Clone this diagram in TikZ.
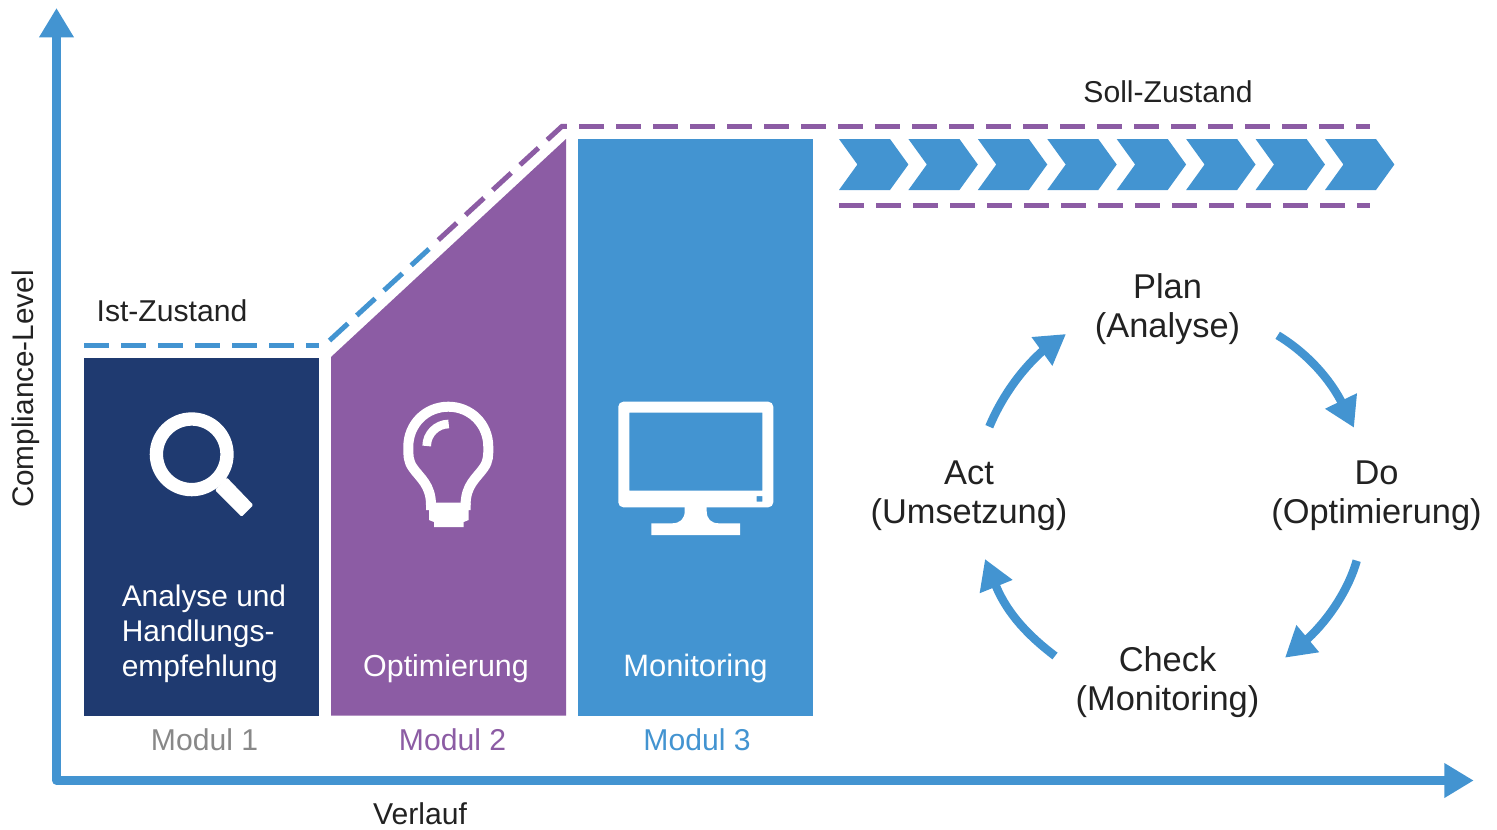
\documentclass[tikz,border=0pt]{standalone}
\usepackage{fontspec}
\setmainfont{Liberation Sans}
\usetikzlibrary{arrows.meta}
\definecolor{navy}{HTML}{1F3A70}
\definecolor{violet}{HTML}{8C5CA4}
\definecolor{sky}{HTML}{4394D1}
\definecolor{inktext}{HTML}{222222}
\definecolor{greytext}{HTML}{888888}
\tikzset{
  px/.style={x=0.75pt,y=-0.75pt},
  axisline/.style={draw=sky,line width=6.3pt,line join=round,{Triangle[length=22pt,width=24.6pt]}-{Triangle[length=22pt,width=24.6pt]}},
  cyclearrow/.style={draw=sky,line width=6.3pt,-{Triangle[length=22.3pt,width=25pt]}},
  dashline/.style={line width=3.75pt,dash pattern=on 18.75pt off 9pt},
  big/.style={inner sep=0pt,text=inktext,font=\fontsize{25.8}{29.25}\selectfont,align=center},
  mid/.style={inner sep=0pt,text=inktext,font=\fontsize{22.6}{26}\selectfont},
  inbox/.style={inner sep=0pt,text=white,font=\fontsize{22.8}{26.25}\selectfont},
  modul/.style={inner sep=0pt,anchor=base,font=\fontsize{22.6}{26.25}\selectfont},
  chevron/.style={fill=sky},
  iconstroke/.style={draw=white},
}
\begin{document}
\begin{tikzpicture}[px]
\fill[white] (0,0) rectangle (1497,829);
\useasboundingbox (0,0) rectangle (1497,829);
% axes
\coordinate (axtop) at (56.5,8);
\coordinate (axorigin) at (56.5,780.5);
\coordinate (axright) at (1473.7,780.5);
\draw[axisline] (axtop) -- (axorigin) -- (axright);
% blocks
\fill[navy] (84,358) rectangle (319,716);
\fill[violet] (331,357) -- (566,139) -- (566,715.5) -- (331,715.5) -- cycle;
\fill[sky] (578,139) rectangle (813,716);
% dashed levels
\draw[dashline,draw=sky] (84,345.5) -- (319,345.5);
\draw[dashline,draw=sky] (329.5,340.5) -- (429,249);
\draw[dashline,draw=violet] (438.3,240) -- (562,126.3) -- (567,126.3);
\draw[dashline,draw=violet] (579,126.3) -- (1370,126.3);
\draw[dashline,draw=violet] (839,205.7) -- (1370,205.7);
% chevrons
\foreach \i in {0,...,7}{
  \fill[chevron,shift={({839+69.43*\i},0)}] (0,139) -- (51,139) -- (69.4,164.5) -- (51,190) -- (0,190) -- (18.4,164.5) -- cycle;
}
% magnifier
\draw[iconstroke,line width=10pt] (191.7,454.3) circle[radius=35.3];
\fill[white,rounded corners=1pt] (215,490) -- (226.7,477.3) -- (253.3,505) -- (241.7,516.7) -- cycle;
% bulb
\draw[iconstroke,line width=7.5pt] (431,505) .. controls (431,485) and (420,478) .. (413,468)
  .. controls (408,461) and (408.3,455) .. (408.3,447)
  .. controls (408.3,424) and (426,406.7) .. (448.3,406.7)
  .. controls (470.6,406.7) and (488.3,424) .. (488.3,447)
  .. controls (488.3,455) and (488.6,461) .. (483.6,468)
  .. controls (476.6,478) and (465.6,485) .. (465.6,505);
\fill[white] (426,502.7) -- (470.7,502.7) -- (470.7,510) -- (468.7,510) -- (468.7,520) -- (463.7,522) -- (463.7,527) -- (434,527) -- (434,522) -- (429,520) -- (429,510) -- (426,510) -- cycle;
\draw[iconstroke,line width=6.5pt] (426.7,446) .. controls (426.7,434) and (436.7,424) .. (448.7,424);
% monitor
\fill[white,even odd rule]
  [rounded corners=3.75pt] (618.3,401.7) rectangle (773.3,507.3)
  [sharp corners] (629.3,412.7) rectangle (762.3,490.7)
  (756.7,496) rectangle (762.3,501.7);
\fill[white] (684.7,507) -- (706.7,507) -- (706.7,511) .. controls (706.7,519) and (711,523.3) .. (719,523.3) -- (740,523.3) -- (740,535) -- (651.3,535) -- (651.3,523.3) -- (672,523.3) .. controls (680,523.3) and (684.7,519) .. (684.7,511) -- cycle;
% block texts
\node[inbox,anchor=west,align=left,font=\fontsize{22.4}{26.25}\selectfont] (tanalyse) at (121.5,633.5) {Analyse und\\Handlungs-\\empfehlung};
\node[inbox,anchor=base] (toptim) at (446,676) {Optimierung};
\node[inbox,anchor=base,font=\fontsize{23.2}{26.25}\selectfont] (tmonit) at (695.5,676) {Monitoring};
\node[modul,text=greytext] (m1) at (204.5,750) {Modul 1};
\node[modul,text=violet] (m2) at (452.5,750) {Modul 2};
\node[modul,text=sky] (m3) at (697,750) {Modul 3};
% axis and level labels
\node[mid,anchor=base,rotate=90,font=\fontsize{22.3}{26}\selectfont] (tyaxis) at (33,389) {Compliance-Level};
\node[mid,anchor=base] (txaxis) at (420,824) {Verlauf};
\node[mid,anchor=base] (tist) at (172,321) {Ist-Zustand};
\node[mid,anchor=base] (tsoll) at (1168,102) {Soll-Zustand};
% cycle
\node[big] (plan) at (1167.5,309) {Plan\\(Analyse)};
\node[big] (do) at (1376.5,496) {Do\\(Optimierung)};
\node[big] (check) at (1167.5,682) {Check\\(Monitoring)};
\node[big] (act) at (969,496) {Act\\(Umsetzung)};
\coordinate (a1s) at (989.3,426.7);
\coordinate (a1m) at (1042.3,351.2);
\coordinate (a1t) at (1066,334);
\draw[cyclearrow] (a1s) .. controls (1000,401) and (1018,373) .. (a1m) -- (a1t);
\coordinate (a2s) at (1277.7,335.3);
\coordinate (a2m) at (1341,401);
\coordinate (a2t) at (1354,427.7);
\draw[cyclearrow] (a2s) .. controls (1302,350) and (1326,373) .. (a2m) -- (a2t);
\coordinate (a3s) at (1356.7,560.7);
\coordinate (a3m) at (1307.7,638.7);
\coordinate (a3t) at (1285,657.7);
\draw[cyclearrow] (a3s) .. controls (1349,588) and (1330,618) .. (a3m) -- (a3t);
\coordinate (a4s) at (1055,656);
\coordinate (a4m) at (995.8,585.7);
\coordinate (a4t) at (985,559);
\draw[cyclearrow] (a4s) .. controls (1030,637) and (1008,615) .. (a4m) -- (a4t);
\end{tikzpicture}
\end{document}
